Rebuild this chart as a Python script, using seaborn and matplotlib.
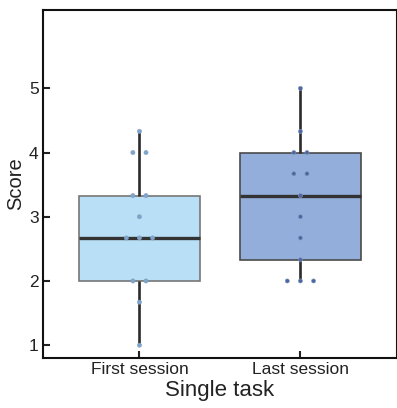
import matplotlib
matplotlib.use("Agg")
import matplotlib.pyplot as plt
import seaborn as sns
import pandas as pd
import numpy as np

sessions = ["First session", "Last session"]
first_scores = [4.33, 4, 4, 3.33, 3.33, 3, 2.67, 2.67, 2.67, 2, 2, 1.67, 1]
last_scores = [5, 4.33, 4, 4, 3.67, 3.67, 3.33, 3, 2.67, 2.33, 2, 2, 2]
box_colors = ["#b8dff5", "#93aedb"]
box_edges = ["#777777", "#4a4a4a"]
point_colors = ["#7aa6d2", "#4b66a6"]
yticks = [1, 2, 3, 4, 5]

df = pd.DataFrame({
    "session": [sessions[0]] * len(first_scores) + [sessions[1]] * len(last_scores),
    "score": first_scores + last_scores,
})

sns.set_style("white")
plt.rcParams["font.family"] = ["Liberation Sans", "DejaVu Sans"]

fig = plt.figure(figsize=(3.97, 4.08), dpi=100)
ax = fig.add_axes([0.108, 0.1225, 0.892, 0.853])

sns.boxplot(data=df, x="session", y="score", hue="session", order=sessions,
            hue_order=sessions, palette=box_colors, saturation=1, legend=False,
            width=0.75, whis=(0, 100), linewidth=1.2, linecolor="#6e6e6e",
            medianprops=dict(color="#333333", linewidth=2.4),
            whiskerprops=dict(color="#2b2b2b", linewidth=1.9),
            capprops=dict(linewidth=0), ax=ax, zorder=1)
for patch, ec in zip(ax.patches, box_edges):
    patch.set_edgecolor(ec)

n_before = len(ax.collections)
# wide swarm layout (spacing ~12 px), then shrink the markers
sns.swarmplot(data=df, x="session", y="score", hue="session", order=sessions,
              hue_order=sessions, palette=point_colors, legend=False, size=9,
              ax=ax, zorder=3)

ax.set_xlim(-0.6, 1.6)
ax.set_ylim(0.8, 6.22)
ax.set_yticks(yticks)
ax.set_yticklabels([str(t) for t in yticks])
ax.tick_params(axis="both", direction="in", length=5, width=1.5, labelsize=12.5,
               colors="#222222", left=True, bottom=True, pad=3)
ax.set_xlabel("Single task", fontsize=16, color="#222222", labelpad=2)
ax.set_ylabel("Score", fontsize=14.5, color="#222222", labelpad=3)
for s in ax.spines.values():
    s.set_color("#111111")
    s.set_linewidth(1.5)

fig.canvas.draw()
for coll in ax.collections[n_before:]:
    if "draw" in coll.__dict__:
        del coll.__dict__["draw"]
    off = np.array(coll.get_offsets(), dtype=float)
    if len(off) == 0:
        continue
    center = np.round(np.median(off[:, 0]))
    # centre each row of tied values symmetrically around the category
    for yv in np.unique(np.round(off[:, 1], 4)):
        m = np.isclose(off[:, 1], yv, atol=1e-3)
        off[m, 0] = off[m, 0] - off[m, 0].mean() + center
    coll.set_offsets(off)
    coll.set_sizes([9])
    coll.set_linewidth(0.4)
    coll.set_edgecolor("#8a9bb5")

fig.savefig("out.png", dpi=100)
